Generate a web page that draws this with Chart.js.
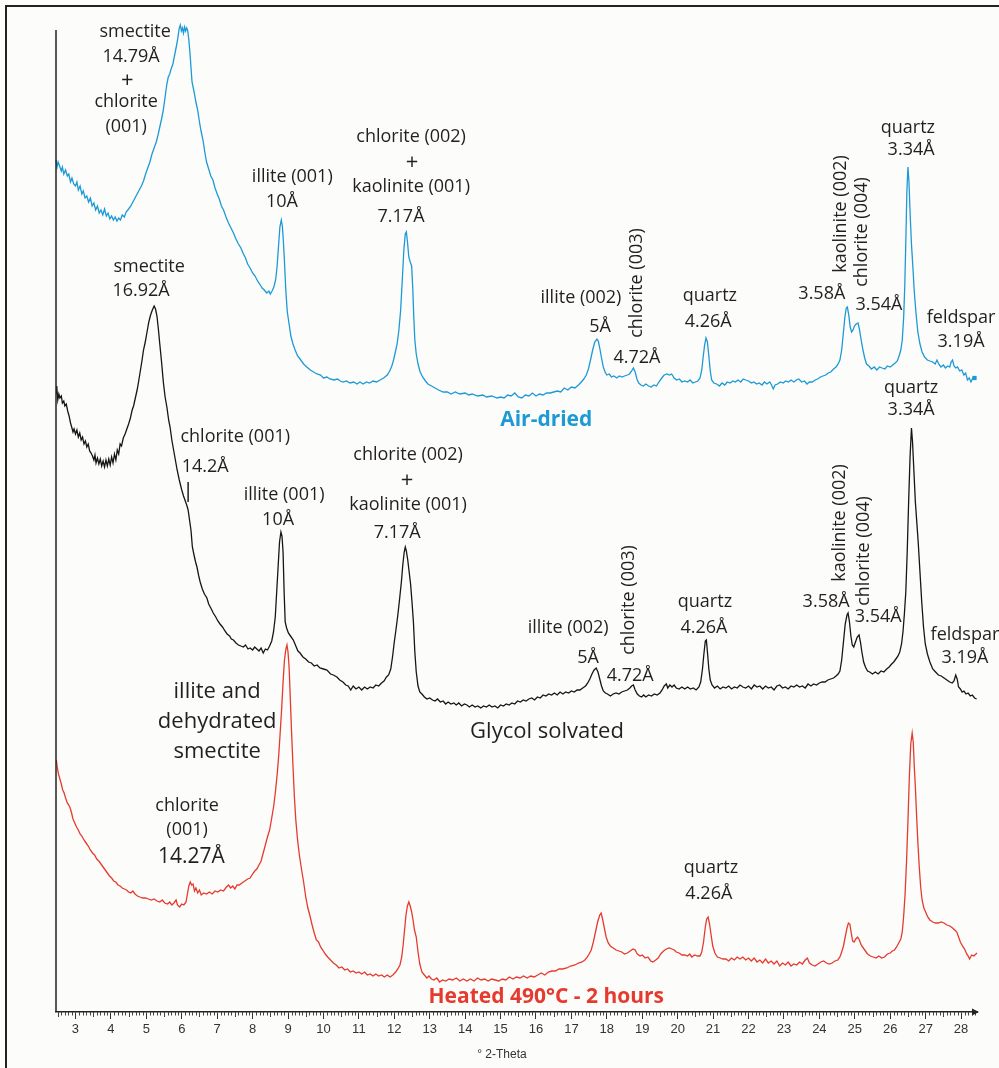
<!DOCTYPE html>
<html><head><meta charset="utf-8">
<script src="https://cdn.jsdelivr.net/npm/chart.js@4.4.1/dist/chart.umd.min.js"></script>
<style>html,body{margin:0;padding:0;background:#fcfcfa;}canvas{display:block;}</style>
</head><body>
<canvas id="c" width="999" height="1068"></canvas>
<script>
// ---- data (x = degrees 2-theta, y = intensity, arbitrary units with vertical offsets) ----
const tickLabels = [3,4,5,6,7,8,9,10,11,12,13,14,15,16,17,18,19,20,21,22,23,24,25,26,27,28];
const xRange = [2.45, 28.45];
const yRange = [0, 982];

const airDried = [[2.45,852],[2.48,845],[2.51,850],[2.55,846],[2.6,841],[2.63,845],[2.67,838],[2.72,842],[2.77,836],[2.81,838],[2.86,830],[2.9,834],[2.95,828],[3.0,826],[3.04,830],[3.08,822],[3.13,826],[3.18,818],[3.22,821],[3.27,814],[3.32,816],[3.37,810],[3.42,814],[3.47,806],[3.52,809],[3.57,802],[3.62,806],[3.67,799],[3.72,802],[3.77,797],[3.82,803],[3.87,796],[3.92,799],[3.97,793],[4.02,796],[4.07,792],[4.12,795],[4.17,791],[4.22,794],[4.27,792],[4.32,797],[4.38,795],[4.43,800],[4.5,803],[4.56,806],[4.62,810],[4.68,814],[4.74,818],[4.8,822],[4.86,826],[4.92,831],[4.98,838],[5.04,844],[5.1,850],[5.16,858],[5.22,864],[5.28,870],[5.33,877],[5.38,885],[5.43,893],[5.48,902],[5.53,915],[5.58,928],[5.62,935],[5.66,938],[5.7,943],[5.75,948],[5.8,957],[5.85,966],[5.89,974],[5.93,984],[5.96,987],[5.99,981],[6.02,984],[6.05,979],[6.08,985],[6.11,981],[6.14,984],[6.17,981],[6.2,972],[6.23,960],[6.26,945],[6.29,930],[6.32,925],[6.36,918],[6.4,910],[6.45,902],[6.5,890],[6.55,880],[6.6,872],[6.65,860],[6.7,850],[6.76,843],[6.82,836],[6.88,832],[6.94,824],[7.0,818],[7.06,813],[7.12,806],[7.18,802],[7.25,795],[7.32,789],[7.39,784],[7.46,779],[7.53,773],[7.6,768],[7.67,764],[7.74,758],[7.8,754],[7.86,748],[7.93,744],[8.0,739],[8.07,736],[8.14,731],[8.2,728],[8.27,724],[8.33,722],[8.4,719],[8.46,721],[8.5,718],[8.55,721],[8.6,725],[8.65,732],[8.69,745],[8.73,765],[8.77,785],[8.81,792],[8.84,786],[8.87,770],[8.9,750],[8.94,720],[8.98,700],[9.03,688],[9.08,676],[9.14,668],[9.2,662],[9.27,656],[9.34,653],[9.44,648],[9.53,645],[9.63,642],[9.72,640],[9.82,638],[9.92,637],[10.0,634],[10.1,635],[10.18,633],[10.3,632],[10.4,633],[10.47,631],[10.56,630],[10.65,631],[10.75,629],[10.85,630],[10.95,628],[11.03,630],[11.12,628],[11.22,630],[11.3,629],[11.4,631],[11.5,630],[11.6,632],[11.7,634],[11.8,637],[11.87,641],[11.93,646],[11.98,652],[12.03,660],[12.08,668],[12.13,682],[12.18,702],[12.23,735],[12.27,762],[12.31,778],[12.34,780],[12.37,771],[12.41,755],[12.45,750],[12.49,746],[12.52,725],[12.55,695],[12.58,672],[12.62,658],[12.67,648],[12.73,640],[12.8,635],[12.88,631],[12.95,628],[13.05,626],[13.15,624],[13.25,622],[13.38,620],[13.5,620],[13.6,618],[13.72,620],[13.85,618],[14.0,619],[14.1,617],[14.2,618],[14.35,616],[14.5,617],[14.6,615],[14.75,616],[14.9,614],[15.0,615],[15.1,614],[15.2,617],[15.3,616],[15.4,619],[15.5,615],[15.6,614],[15.7,617],[15.8,616],[15.9,619],[16.0,616],[16.1,618],[16.2,617],[16.3,619],[16.4,619],[16.5,620],[16.6,621],[16.7,620],[16.8,624],[16.9,622],[17.0,625],[17.1,624],[17.2,627],[17.28,630],[17.35,633],[17.42,637],[17.48,643],[17.54,652],[17.6,662],[17.66,670],[17.72,673],[17.76,671],[17.8,664],[17.85,654],[17.9,645],[17.95,640],[18.0,637],[18.07,638],[18.13,635],[18.2,636],[18.28,634],[18.35,636],[18.43,635],[18.5,636],[18.58,637],[18.64,638],[18.7,641],[18.75,644],[18.8,640],[18.85,633],[18.9,629],[18.96,627],[19.03,626],[19.1,628],[19.18,626],[19.25,625],[19.33,627],[19.4,626],[19.47,630],[19.55,634],[19.62,637],[19.7,638],[19.77,637],[19.83,638],[19.9,634],[19.97,632],[20.05,633],[20.12,630],[20.2,631],[20.28,630],[20.35,632],[20.43,629],[20.5,630],[20.57,631],[20.63,634],[20.68,642],[20.72,655],[20.76,667],[20.8,674],[20.84,670],[20.88,656],[20.92,641],[20.96,632],[21.02,629],[21.1,628],[21.18,626],[21.25,629],[21.33,627],[21.4,630],[21.48,629],[21.56,631],[21.63,630],[21.7,632],[21.78,630],[21.85,633],[21.92,632],[22.0,631],[22.08,629],[22.15,630],[22.23,628],[22.3,629],[22.38,627],[22.45,630],[22.52,628],[22.6,630],[22.65,627],[22.7,623],[22.75,627],[22.82,628],[22.9,630],[22.98,629],[23.05,631],[23.13,630],[23.2,632],[23.28,630],[23.35,632],[23.42,633],[23.5,630],[23.58,631],[23.65,628],[23.72,630],[23.8,630],[23.88,632],[23.95,633],[24.03,635],[24.1,636],[24.18,637],[24.25,639],[24.32,640],[24.4,643],[24.47,645],[24.53,648],[24.58,652],[24.63,662],[24.68,680],[24.72,695],[24.76,704],[24.79,705],[24.83,697],[24.87,685],[24.91,680],[24.95,682],[24.99,686],[25.04,688],[25.09,689],[25.13,683],[25.18,672],[25.23,662],[25.28,654],[25.33,648],[25.4,646],[25.47,643],[25.55,645],[25.62,642],[25.7,645],[25.77,644],[25.85,643],[25.92,646],[26.0,645],[26.07,647],[26.14,649],[26.2,651],[26.25,656],[26.3,662],[26.34,672],[26.38,695],[26.41,725],[26.44,770],[26.47,820],[26.5,845],[26.53,830],[26.56,800],[26.6,768],[26.64,745],[26.68,720],[26.73,698],[26.78,680],[26.84,668],[26.9,660],[26.97,655],[27.05,652],[27.12,651],[27.2,650],[27.27,648],[27.32,652],[27.37,648],[27.43,645],[27.5,647],[27.56,644],[27.62,646],[27.68,645],[27.72,650],[27.76,652],[27.8,646],[27.85,644],[27.9,645],[27.96,641],[28.02,642],[28.08,637],[28.13,639],[28.18,632],[28.23,634],[28.28,630],[28.33,634],[28.38,634]];

const glycolSolvated = [[2.45,619],[2.47,626],[2.5,612],[2.53,618],[2.56,614],[2.6,616],[2.63,609],[2.67,611],[2.7,606],[2.74,608],[2.78,601],[2.82,596],[2.86,589],[2.9,584],[2.93,580],[2.96,583],[3.0,578],[3.04,582],[3.08,575],[3.12,579],[3.16,572],[3.2,575],[3.24,568],[3.28,571],[3.32,565],[3.36,568],[3.4,561],[3.44,559],[3.48,556],[3.52,552],[3.55,557],[3.58,549],[3.62,554],[3.66,548],[3.7,553],[3.74,546],[3.78,551],[3.82,545],[3.86,552],[3.9,546],[3.94,553],[3.98,547],[4.02,555],[4.06,549],[4.1,558],[4.14,552],[4.18,562],[4.22,558],[4.26,568],[4.3,566],[4.35,574],[4.4,578],[4.45,583],[4.5,588],[4.55,594],[4.6,602],[4.64,606],[4.69,614],[4.74,622],[4.78,630],[4.83,641],[4.88,652],[4.92,662],[4.97,670],[5.02,680],[5.07,690],[5.12,697],[5.17,702],[5.22,706],[5.26,703],[5.3,696],[5.34,683],[5.38,668],[5.43,650],[5.48,630],[5.53,615],[5.58,605],[5.63,592],[5.67,585],[5.72,572],[5.77,562],[5.82,552],[5.87,542],[5.93,532],[6.0,522],[6.05,516],[6.09,512],[6.14,507],[6.18,502],[6.22,492],[6.26,482],[6.3,465],[6.34,458],[6.39,450],[6.43,445],[6.48,436],[6.52,430],[6.58,423],[6.64,418],[6.71,414],[6.76,408],[6.82,404],[6.89,399],[6.96,395],[7.02,391],[7.08,388],[7.15,385],[7.22,381],[7.28,378],[7.35,376],[7.4,373],[7.46,372],[7.53,369],[7.6,367],[7.67,366],[7.74,365],[7.8,367],[7.87,363],[7.93,364],[8.0,362],[8.06,365],[8.12,363],[8.18,361],[8.24,364],[8.3,359],[8.36,363],[8.42,362],[8.48,366],[8.54,371],[8.59,380],[8.64,395],[8.68,420],[8.72,445],[8.76,470],[8.8,480],[8.83,476],[8.86,460],[8.89,420],[8.92,390],[8.96,384],[9.01,379],[9.07,376],[9.15,372],[9.22,366],[9.28,361],[9.34,359],[9.42,355],[9.5,353],[9.58,350],[9.66,349],[9.74,346],[9.82,347],[9.9,344],[10.0,343],[10.1,342],[10.2,338],[10.28,337],[10.38,335],[10.46,332],[10.55,330],[10.63,327],[10.7,326],[10.77,322],[10.84,326],[10.92,323],[11.0,325],[11.08,322],[11.16,325],[11.24,323],[11.32,325],[11.4,324],[11.48,327],[11.56,326],[11.64,329],[11.71,331],[11.78,335],[11.84,337],[11.9,343],[11.95,355],[12.0,370],[12.05,383],[12.1,397],[12.15,413],[12.2,430],[12.24,447],[12.28,460],[12.31,465],[12.34,461],[12.38,452],[12.42,440],[12.46,428],[12.5,410],[12.54,390],[12.58,360],[12.62,340],[12.67,326],[12.72,320],[12.78,318],[12.85,315],[12.92,313],[13.0,314],[13.08,312],[13.15,311],[13.22,313],[13.3,310],[13.38,311],[13.45,308],[13.52,310],[13.6,308],[13.68,309],[13.75,307],[13.82,309],[13.9,306],[13.98,308],[14.05,307],[14.12,305],[14.2,307],[14.28,305],[14.36,306],[14.44,304],[14.52,306],[14.6,305],[14.68,307],[14.76,305],[14.84,306],[14.92,304],[15.0,307],[15.08,306],[15.16,308],[15.24,307],[15.32,309],[15.4,308],[15.48,311],[15.56,310],[15.64,312],[15.72,311],[15.8,313],[15.88,314],[15.96,312],[16.04,315],[16.12,314],[16.2,317],[16.28,316],[16.36,318],[16.44,317],[16.52,319],[16.6,317],[16.68,320],[16.76,318],[16.84,320],[16.92,319],[17.0,321],[17.08,320],[17.16,322],[17.24,322],[17.32,324],[17.4,326],[17.46,329],[17.52,333],[17.58,338],[17.64,342],[17.7,344],[17.75,340],[17.8,333],[17.85,326],[17.9,321],[17.96,319],[18.02,318],[18.1,316],[18.18,318],[18.26,319],[18.34,318],[18.42,320],[18.5,321],[18.58,322],[18.65,324],[18.7,326],[18.75,327],[18.8,322],[18.86,318],[18.92,316],[18.98,315],[19.04,317],[19.1,315],[19.18,317],[19.26,316],[19.34,318],[19.42,317],[19.5,319],[19.56,322],[19.62,326],[19.68,328],[19.72,324],[19.78,327],[19.84,325],[19.9,327],[19.96,324],[20.04,323],[20.12,325],[20.2,323],[20.28,325],[20.36,323],[20.44,324],[20.52,322],[20.6,325],[20.65,330],[20.7,343],[20.74,358],[20.78,371],[20.81,372],[20.84,360],[20.88,343],[20.92,332],[20.97,327],[21.04,324],[21.12,326],[21.2,323],[21.28,325],[21.36,324],[21.44,326],[21.52,323],[21.6,325],[21.68,324],[21.76,327],[21.84,325],[21.92,324],[22.0,326],[22.08,323],[22.16,327],[22.24,325],[22.32,326],[22.4,323],[22.48,326],[22.56,324],[22.64,325],[22.72,322],[22.8,326],[22.88,327],[22.96,324],[23.04,325],[23.12,323],[23.2,326],[23.28,325],[23.36,327],[23.44,325],[23.52,326],[23.6,324],[23.68,328],[23.76,326],[23.84,328],[23.92,327],[24.0,329],[24.08,330],[24.16,330],[24.24,332],[24.32,333],[24.4,334],[24.47,336],[24.53,338],[24.58,341],[24.63,352],[24.68,370],[24.73,388],[24.78,397],[24.81,399],[24.85,390],[24.89,376],[24.93,367],[24.97,365],[25.02,370],[25.07,375],[25.12,377],[25.16,370],[25.2,360],[25.25,350],[25.3,345],[25.36,341],[25.42,340],[25.5,338],[25.58,340],[25.66,338],[25.74,341],[25.82,340],[25.9,343],[25.97,345],[26.04,348],[26.1,350],[26.16,353],[26.22,356],[26.27,360],[26.32,368],[26.36,380],[26.4,398],[26.44,420],[26.48,460],[26.52,510],[26.56,555],[26.6,584],[26.63,570],[26.67,540],[26.71,510],[26.75,490],[26.79,470],[26.84,440],[26.89,410],[26.94,385],[26.99,368],[27.05,358],[27.12,350],[27.2,343],[27.28,340],[27.36,337],[27.44,336],[27.52,334],[27.6,332],[27.68,330],[27.75,329],[27.8,331],[27.85,337],[27.89,333],[27.93,325],[27.98,323],[28.03,320],[28.08,321],[28.14,318],[28.2,319],[28.26,316],[28.32,317],[28.38,314],[28.44,313]];

const heated490 = [[2.46,252],[2.48,246],[2.52,238],[2.56,233],[2.6,228],[2.64,222],[2.68,219],[2.72,214],[2.77,209],[2.81,207],[2.85,204],[2.89,199],[2.93,193],[2.98,189],[3.03,185],[3.08,182],[3.13,178],[3.18,176],[3.24,172],[3.3,169],[3.36,166],[3.42,162],[3.48,159],[3.54,157],[3.6,153],[3.66,151],[3.72,148],[3.78,145],[3.84,142],[3.9,139],[3.96,136],[4.02,134],[4.08,131],[4.14,130],[4.2,127],[4.26,126],[4.32,124],[4.38,123],[4.44,122],[4.5,120],[4.56,119],[4.62,121],[4.68,118],[4.75,116],[4.82,115],[4.9,114],[4.98,114],[5.06,113],[5.14,112],[5.22,113],[5.3,111],[5.38,110],[5.45,112],[5.52,109],[5.6,108],[5.66,110],[5.72,107],[5.78,109],[5.84,112],[5.88,107],[5.94,105],[6.0,108],[6.06,107],[6.12,110],[6.16,118],[6.2,126],[6.24,130],[6.28,127],[6.32,128],[6.36,121],[6.4,124],[6.45,119],[6.5,122],[6.55,117],[6.62,119],[6.7,118],[6.78,120],[6.86,118],[6.94,121],[7.02,120],[7.1,122],[7.18,121],[7.26,125],[7.32,127],[7.38,124],[7.44,126],[7.5,123],[7.56,127],[7.62,127],[7.7,129],[7.78,131],[7.86,133],[7.93,134],[8.0,138],[8.06,141],[8.12,143],[8.18,147],[8.24,151],[8.3,159],[8.36,167],[8.42,175],[8.48,182],[8.54,194],[8.6,207],[8.65,222],[8.7,240],[8.74,258],[8.78,280],[8.82,303],[8.86,330],[8.9,352],[8.94,363],[8.97,367],[9.0,360],[9.03,345],[9.06,318],[9.1,280],[9.14,246],[9.18,215],[9.22,192],[9.27,172],[9.32,157],[9.38,143],[9.44,130],[9.5,115],[9.56,104],[9.62,96],[9.68,87],[9.74,79],[9.8,72],[9.86,70],[9.92,65],[9.98,62],[10.05,58],[10.12,55],[10.2,52],[10.28,49],[10.36,47],[10.44,44],[10.52,45],[10.6,42],[10.68,43],[10.76,40],[10.84,41],[10.92,39],[11.0,40],[11.08,38],[11.16,40],[11.24,37],[11.32,38],[11.4,36],[11.48,38],[11.56,36],[11.64,37],[11.72,35],[11.8,37],[11.88,35],[11.96,37],[12.04,40],[12.1,43],[12.16,47],[12.21,55],[12.25,67],[12.29,82],[12.33,97],[12.37,106],[12.41,110],[12.45,106],[12.49,100],[12.53,92],[12.57,82],[12.62,75],[12.67,60],[12.72,48],[12.78,40],[12.85,37],[12.92,34],[12.98,36],[13.05,33],[13.12,32],[13.2,34],[13.28,30],[13.36,32],[13.45,31],[13.55,33],[13.65,32],[13.75,34],[13.85,31],[13.95,33],[14.05,31],[14.15,33],[14.25,31],[14.35,34],[14.45,32],[14.55,33],[14.65,31],[14.75,33],[14.85,32],[14.95,31],[15.05,33],[15.15,32],[15.25,35],[15.35,33],[15.45,35],[15.55,34],[15.65,36],[15.75,34],[15.85,36],[15.95,35],[16.05,37],[16.15,39],[16.25,37],[16.35,40],[16.45,41],[16.55,41],[16.65,43],[16.75,43],[16.87,44],[16.98,46],[17.1,47],[17.2,49],[17.3,50],[17.38,52],[17.45,55],[17.5,58],[17.56,62],[17.62,70],[17.68,80],[17.74,90],[17.8,97],[17.84,99],[17.88,93],[17.93,84],[17.98,75],[18.04,69],[18.1,66],[18.18,64],[18.26,62],[18.34,61],[18.42,60],[18.5,58],[18.58,59],[18.66,61],[18.74,63],[18.8,62],[18.86,58],[18.94,56],[19.0,57],[19.08,54],[19.16,55],[19.24,51],[19.3,50],[19.38,52],[19.45,54],[19.52,58],[19.6,61],[19.68,63],[19.76,64],[19.84,63],[19.9,62],[19.96,60],[20.04,59],[20.12,57],[20.2,57],[20.28,56],[20.34,58],[20.4,55],[20.48,57],[20.56,56],[20.63,56],[20.68,60],[20.73,70],[20.78,85],[20.82,93],[20.86,95],[20.9,88],[20.94,78],[20.99,66],[21.05,59],[21.12,55],[21.2,54],[21.28,53],[21.36,53],[21.44,51],[21.52,54],[21.6,52],[21.68,55],[21.76,53],[21.84,55],[21.92,52],[22.0,54],[22.08,51],[22.16,54],[22.24,50],[22.32,52],[22.4,49],[22.48,53],[22.56,49],[22.64,51],[22.72,48],[22.8,51],[22.88,46],[22.96,49],[23.04,47],[23.12,50],[23.2,46],[23.28,48],[23.36,47],[23.44,50],[23.52,48],[23.6,52],[23.66,54],[23.72,49],[23.8,47],[23.88,46],[23.96,48],[24.04,50],[24.12,51],[24.2,49],[24.28,48],[24.36,49],[24.44,51],[24.52,52],[24.58,55],[24.63,60],[24.68,66],[24.73,75],[24.78,84],[24.82,89],[24.86,88],[24.9,79],[24.94,71],[24.98,70],[25.03,73],[25.08,75],[25.13,72],[25.18,67],[25.24,64],[25.3,61],[25.36,58],[25.44,56],[25.52,55],[25.6,54],[25.68,56],[25.76,54],[25.84,55],[25.92,58],[26.0,59],[26.06,61],[26.12,62],[26.18,65],[26.24,69],[26.3,73],[26.34,80],[26.38,96],[26.42,118],[26.46,150],[26.5,190],[26.54,235],[26.58,268],[26.62,279],[26.65,270],[26.68,245],[26.71,225],[26.74,200],[26.78,170],[26.82,145],[26.86,125],[26.9,112],[26.95,104],[27.0,100],[27.06,95],[27.12,92],[27.2,90],[27.28,89],[27.36,89],[27.44,90],[27.52,89],[27.6,87],[27.68,86],[27.76,84],[27.82,82],[27.88,80],[27.93,75],[27.98,70],[28.04,66],[28.1,63],[28.16,58],[28.2,56],[28.24,53],[28.3,57],[28.36,56],[28.42,58],[28.45,59]];

const seriesNames = ['Air-dried', 'Glycol solvated', 'Heated 490°C - 2 hours'];
const axisTitle = '° 2-Theta';

// ---- styling ----
const BLUE = '#1d9ad6', BLACK = '#161616', RED = '#e63a2e', INK = '#231f20';
const FONT = '"Open Sans", "DejaVu Sans", sans-serif';

// annotations: text, anchor at (2-theta, intensity)
const notes = [
  // air-dried
  {t:'smectite', x:4.685, y:980}, {t:'14.79Å', x:4.57, y:955}, {t:'+', x:4.46, y:931, s:22},
  {t:'chlorite', x:4.43, y:910}, {t:'(001)', x:4.43, y:885},
  {t:'illite (001)', x:9.12, y:835}, {t:'10Å', x:8.83, y:810},
  {t:'chlorite (002)', x:12.475, y:875}, {t:'+', x:12.50, y:849, s:22},
  {t:'kaolinite (001)', x:12.475, y:825}, {t:'7.17Å', x:12.19, y:795},
  {t:'illite (002)', x:17.27, y:714}, {t:'5Å', x:17.81, y:685},
  {t:'chlorite (003)', x:18.85, y:729, r:true}, {t:'4.72Å', x:18.85, y:654},
  {t:'quartz', x:20.91, y:716}, {t:'4.26Å', x:20.86, y:690},
  {t:'3.58Å', x:24.07, y:718}, {t:'kaolinite (002)', x:24.61, y:798, r:true},
  {t:'chlorite (004)', x:25.20, y:780, r:true}, {t:'3.54Å', x:25.68, y:707},
  {t:'quartz', x:26.50, y:884}, {t:'3.34Å', x:26.59, y:862},
  {t:'feldspar', x:28.0, y:694}, {t:'3.19Å', x:28.0, y:670},
  // glycol solvated
  {t:'smectite', x:5.08, y:745}, {t:'16.92Å', x:4.85, y:721},
  {t:'chlorite (001)', x:7.51, y:575}, {t:'14.2Å', x:6.66, y:545},
  {t:'illite (001)', x:8.89, y:517}, {t:'10Å', x:8.72, y:492},
  {t:'chlorite (002)', x:12.39, y:557}, {t:'+', x:12.36, y:531, s:22},
  {t:'kaolinite (001)', x:12.39, y:507}, {t:'7.17Å', x:12.08, y:479},
  {t:'illite (002)', x:16.91, y:384}, {t:'5Å', x:17.47, y:354},
  {t:'chlorite (003)', x:18.63, y:412, r:true}, {t:'4.72Å', x:18.66, y:336},
  {t:'quartz', x:20.77, y:410}, {t:'4.26Å', x:20.74, y:384},
  {t:'3.58Å', x:24.19, y:410}, {t:'kaolinite (002)', x:24.58, y:489, r:true},
  {t:'chlorite (004)', x:25.26, y:461, r:true}, {t:'3.54Å', x:25.66, y:395},
  {t:'quartz', x:26.59, y:624}, {t:'3.34Å', x:26.59, y:602},
  {t:'feldspar', x:28.11, y:377}, {t:'3.19Å', x:28.11, y:354},
  // heated
  {t:'illite and', x:7.0, y:320, s:22}, {t:'dehydrated', x:7.0, y:290, s:22}, {t:'smectite', x:7.0, y:260, s:22},
  {t:'chlorite', x:6.15, y:206}, {t:'(001)', x:6.15, y:182}, {t:'14.27Å', x:6.27, y:155, s:21},
  {t:'quartz', x:20.94, y:144}, {t:'4.26Å', x:20.88, y:118},
  // series names
  {t:seriesNames[0], x:16.29, y:592, s:21, w:'bold', c:BLUE},
  {t:seriesNames[1], x:16.31, y:280, s:22, c:INK},
  {t:seriesNames[2], x:16.29, y:15, s:21, w:'bold', c:RED}
];
const markerTick = {x:6.18, y0:510, y1:530};

const decor = {
  id: 'decor',
  beforeDraw(chart) {
    const c = chart.ctx;
    c.save();
    c.fillStyle = '#fcfcfa';
    c.fillRect(0, 0, chart.width, chart.height);
    c.strokeStyle = '#222'; c.lineWidth = 2;
    c.beginPath(); c.moveTo(6, chart.height); c.lineTo(6, 6); c.lineTo(chart.width, 6); c.stroke();
    c.restore();
  },
  afterDraw(chart) {
    const c = chart.ctx, xs = chart.scales.x, ys = chart.scales.y, a = chart.chartArea;
    c.save();
    // y axis line
    c.strokeStyle = '#222'; c.lineWidth = 1.5;
    c.beginPath(); c.moveTo(a.left, a.top); c.lineTo(a.left, a.bottom); c.stroke();
    // minor ticks
    c.lineWidth = 1; c.strokeStyle = '#444';
    for (let i = Math.ceil(xRange[0]*10); i <= Math.floor(xRange[1]*10); i++) {
      if (i % 10 === 0) continue;
      const px = Math.round(xs.getPixelForValue(i/10)) + 0.5;
      const len = (i % 5 === 0) ? 5 : 3.5;
      c.beginPath(); c.moveTo(px, a.bottom); c.lineTo(px, a.bottom + len); c.stroke();
    }
    // arrow at end of x axis
    c.fillStyle = '#222';
    c.beginPath(); c.moveTo(a.right + 2, a.bottom); c.lineTo(a.right - 5, a.bottom - 3.5); c.lineTo(a.right - 5, a.bottom + 3.5); c.closePath(); c.fill();
    // axis title
    c.fillStyle = '#333'; c.font = '12px "Liberation Sans", Arial, sans-serif';
    c.textAlign = 'center'; c.textBaseline = 'middle';
    c.fillText(axisTitle, xs.getPixelForValue(15.04), a.bottom + 43);
    // annotations
    for (const n of notes) {
      c.save();
      c.fillStyle = n.c || INK;
      c.font = (n.w || 'normal') + ' ' + (n.s || 18) + 'px ' + FONT;
      c.textAlign = 'center'; c.textBaseline = 'middle';
      const px = xs.getPixelForValue(n.x), py = ys.getPixelForValue(n.y);
      c.translate(px, py);
      if (n.r) c.rotate(-Math.PI/2);
      c.fillText(n.t, 0, 0);
      c.restore();
    }
    // small marker line for chlorite 14.2Å
    c.strokeStyle = INK; c.lineWidth = 1.5;
    const mx = xs.getPixelForValue(markerTick.x);
    c.beginPath(); c.moveTo(mx, ys.getPixelForValue(markerTick.y0)); c.lineTo(mx, ys.getPixelForValue(markerTick.y1)); c.stroke();
    c.restore();
  }
};

const toXY = arr => arr.map(p => ({x: p[0], y: p[1]}));
const mk = (label, arr, color, endMarker) => ({
  label, data: toXY(arr), borderColor: color, backgroundColor: color,
  borderWidth: 1.3, tension: 0, fill: false, clip: false,
  pointRadius: ctx => (endMarker && ctx.dataIndex === arr.length - 1) ? 3 : 0,
  pointStyle: 'rect', pointBorderWidth: 0
});

new Chart(document.getElementById('c'), {
  type: 'line',
  data: { datasets: [
    mk(seriesNames[0], airDried, BLUE, true),
    mk(seriesNames[1], glycolSolvated, BLACK, false),
    mk(seriesNames[2], heated490, RED, false)
  ]},
  options: {
    responsive: false, animation: false, devicePixelRatio: 1,
    layout: { padding: { left: 56, right: 22, top: 30, bottom: 0 } },
    plugins: { legend: { display: false }, tooltip: { enabled: false } },
    scales: {
      x: {
        type: 'linear', min: xRange[0], max: xRange[1],
        afterBuildTicks: s => { s.ticks = tickLabels.map(v => ({value: v})); },
        afterFit: s => { s.height = 56; },
        ticks: { autoSkip: false, maxRotation: 0, padding: 3, color: '#333',
                 font: { family: '"Liberation Sans", Arial, sans-serif', size: 13 } },
        grid: { drawOnChartArea: false, drawTicks: true, tickLength: 7, tickColor: '#333', tickWidth: 1 },
        border: { display: true, color: '#222', width: 1.5 }
      },
      y: { display: false, min: yRange[0], max: yRange[1] }
    }
  },
  plugins: [decor]
});
</script>
</body></html>
